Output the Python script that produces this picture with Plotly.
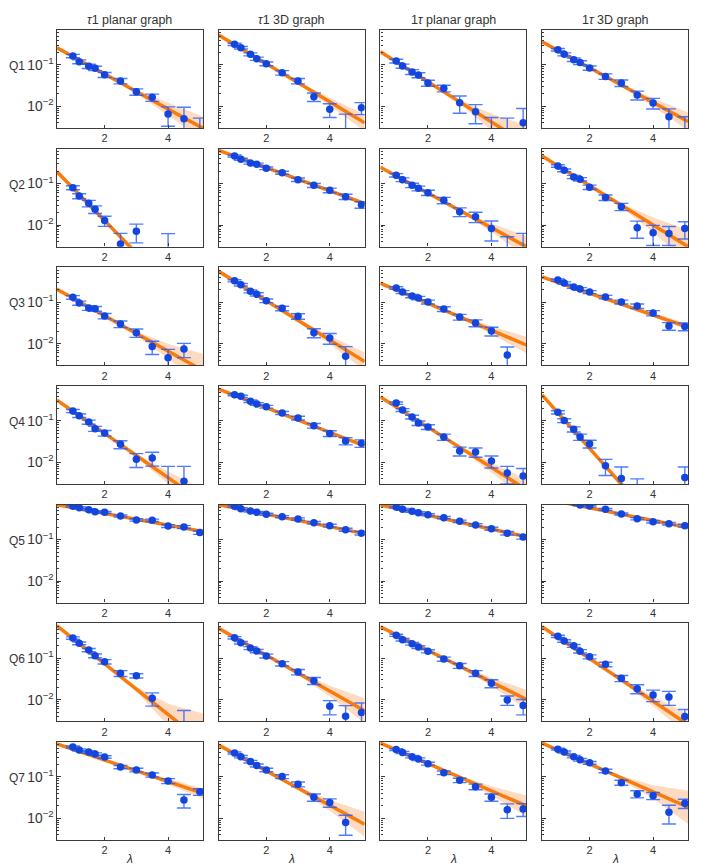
import numpy as np
import plotly.graph_objects as go
from plotly.subplots import make_subplots

lam = [1.0, 1.2, 1.5, 1.7, 2.0, 2.5, 3.0, 3.5, 4.0, 4.5, 5.0]
columns = ['<i>τ</i>1 planar graph', '<i>τ</i>1 3D graph',
           '1<i>τ</i> planar graph', '1<i>τ</i> 3D graph']
questions = ['Q1', 'Q2', 'Q3', 'Q4', 'Q5', 'Q6', 'Q7']

# observed frequencies, one list per graph type (columns), None = not drawn
q1_p = [[0.165, 0.12, 0.093, 0.083, 0.058, 0.041, 0.0225, 0.0165, 0.0065, 0.005, 0.002],
        [0.316, 0.262, 0.181, 0.142, 0.107, 0.065, 0.041, 0.0171, 0.0085, 0.002, 0.0093],
        [0.125, 0.094, 0.068, 0.057, 0.0367, 0.0274, 0.0123, 0.0074, 0.002, 0.002, 0.004],
        [0.234, 0.181, 0.134, 0.114, 0.0845, 0.053, 0.0367, 0.0188, 0.0121, 0.0056, 0.002]]
q1_err = [[0.015, 0.013, 0.011, 0.01, 0.008, 0.006, 0.004, 0.0033, 0.0032, 0.0045, 0.0032],
          [0.02, 0.018, 0.015, 0.013, 0.011, 0.008, 0.006, 0.004, 0.0031, 0.0045, 0.003],
          [0.013, 0.011, 0.009, 0.008, 0.006, 0.005, 0.0055, 0.0036, 0.0034, 0.0032, 0.0049],
          [0.017, 0.015, 0.013, 0.012, 0.01, 0.008, 0.0065, 0.0045, 0.0035, 0.0031, 0.0036]]

q2_p = [[0.08, 0.05, 0.0334, 0.024, 0.0128, 0.0035, 0.0071, None, 0.002, None, None],
        [0.467, 0.388, 0.316, 0.294, 0.235, 0.184, 0.125, 0.091, 0.069, 0.0485, 0.031],
        [0.16, 0.125, 0.091, 0.077, 0.0605, 0.0397, 0.021, 0.0159, 0.0083, 0.002, 0.002],
        [0.267, 0.21, 0.145, 0.128, 0.082, 0.046, 0.0278, 0.0086, 0.0065, 0.0062, 0.0083]]
q2_err = [[0.009, 0.007, 0.006, 0.005, 0.0035, 0.0028, 0.0034, 0, 0.0042, 0, 0],
          [0.025, 0.022, 0.02, 0.019, 0.017, 0.015, 0.012, 0.01, 0.009, 0.007, 0.0055],
          [0.015, 0.013, 0.011, 0.01, 0.009, 0.007, 0.005, 0.0045, 0.0042, 0.0032, 0.0043],
          [0.018, 0.016, 0.013, 0.012, 0.01, 0.007, 0.0055, 0.0038, 0.0033, 0.003, 0.0037]]

q3_p = [[0.132, 0.096, 0.0728, 0.07, 0.0467, 0.0299, 0.0184, 0.0085, 0.0046, 0.0074, None],
        [0.332, 0.266, 0.184, 0.156, 0.109, 0.0716, 0.046, 0.0184, 0.0137, 0.005, None],
        [0.221, 0.177, 0.142, 0.127, 0.102, 0.069, 0.044, 0.0316, 0.0202, 0.0053, None],
        [0.345, 0.292, 0.234, 0.21, 0.177, 0.134, 0.102, 0.081, 0.055, 0.0267, 0.026]]
q3_err = [[0.013, 0.011, 0.009, 0.009, 0.007, 0.0055, 0.0042, 0.003, 0.0027, 0.0028, 0],
          [0.02, 0.018, 0.015, 0.014, 0.011, 0.009, 0.007, 0.0045, 0.004, 0.0035, 0],
          [0.016, 0.015, 0.013, 0.012, 0.011, 0.009, 0.007, 0.006, 0.0048, 0.003, 0],
          [0.021, 0.019, 0.017, 0.016, 0.015, 0.013, 0.011, 0.01, 0.008, 0.0055, 0.0055]]

q4_p = [[0.174, 0.134, 0.094, 0.065, 0.051, 0.0274, 0.0119, 0.0128, 0.002, 0.0035, None],
        [0.43, 0.394, 0.30, 0.257, 0.221, 0.156, 0.118, 0.077, 0.05, 0.033, 0.029],
        [0.27, 0.184, 0.125, 0.089, 0.0716, 0.041, 0.0188, 0.0178, 0.0108, 0.0055, 0.0047],
        [0.162, 0.102, 0.063, 0.041, 0.0283, 0.0083, 0.0041, 0.002, None, None, 0.0043]]
q4_err = [[0.015, 0.013, 0.011, 0.009, 0.008, 0.006, 0.0044, 0.0047, 0.006, 0.0045, 0],
          [0.024, 0.023, 0.02, 0.018, 0.017, 0.014, 0.012, 0.01, 0.008, 0.0065, 0.006],
          [0.018, 0.015, 0.013, 0.011, 0.0095, 0.007, 0.0045, 0.0045, 0.0035, 0.0025, 0.0024],
          [0.014, 0.011, 0.009, 0.007, 0.006, 0.0035, 0.0036, 0.002, 0, 0, 0.0034]]

q5_p = [[0.64, 0.593, 0.53, 0.474, 0.458, 0.373, 0.30, 0.294, 0.214, 0.202, 0.148],
        [0.64, 0.56, 0.493, 0.458, 0.41, 0.359, 0.316, 0.257, 0.218, 0.174, 0.143],
        [0.616, 0.542, 0.484, 0.449, 0.40, 0.34, 0.278, 0.226, 0.184, 0.143, 0.116],
        [0.95, 0.88, 0.8, 0.69, 0.65, 0.542, 0.417, 0.32, 0.272, 0.243, 0.218]]
q5_err = [[0.03, 0.028, 0.027, 0.025, 0.025, 0.022, 0.02, 0.02, 0.017, 0.016, 0.014],
          [0.03, 0.028, 0.026, 0.025, 0.024, 0.022, 0.02, 0.018, 0.017, 0.015, 0.014],
          [0.03, 0.028, 0.026, 0.025, 0.024, 0.021, 0.019, 0.017, 0.016, 0.014, 0.013],
          [0.036, 0.035, 0.033, 0.031, 0.03, 0.027, 0.024, 0.02, 0.019, 0.018, 0.017]]

q6_p = [[0.309, 0.23, 0.158, 0.115, 0.083, 0.0433, 0.038, 0.0108, None, 0.002, None],
        [0.314, 0.238, 0.177, 0.15, 0.114, 0.074, 0.0467, 0.0288, 0.0069, 0.004, 0.0049],
        [0.359, 0.281, 0.225, 0.187, 0.148, 0.096, 0.066, 0.0433, 0.0249, 0.0098, 0.0072],
        [0.34, 0.262, 0.20, 0.148, 0.109, 0.0716, 0.0329, 0.0184, 0.013, 0.0116, 0.0039]]
q6_err = [[0.02, 0.017, 0.014, 0.012, 0.01, 0.007, 0.0045, 0.0038, 0, 0.0035, 0],
          [0.02, 0.017, 0.015, 0.014, 0.012, 0.009, 0.007, 0.0055, 0.0026, 0.0032, 0.0034],
          [0.021, 0.019, 0.017, 0.015, 0.013, 0.011, 0.009, 0.007, 0.0055, 0.0025, 0.0029],
          [0.021, 0.018, 0.016, 0.014, 0.012, 0.009, 0.0055, 0.0045, 0.004, 0.0043, 0.0019]]

q7_p = [[0.53, 0.449, 0.40, 0.359, 0.304, 0.174, 0.148, 0.112, 0.08, 0.0278, 0.044],
        [0.38, 0.31, 0.235, 0.19, 0.148, 0.102, 0.0666, 0.0323, 0.024, 0.0079, None],
        [0.46, 0.39, 0.31, 0.27, 0.21, 0.127, 0.083, 0.058, 0.0323, 0.0162, 0.0169],
        [0.47, 0.40, 0.31, 0.26, 0.22, 0.14, 0.073, 0.0388, 0.0353, 0.014, 0.0231]]
q7_err = [[0.028, 0.026, 0.025, 0.023, 0.021, 0.016, 0.015, 0.013, 0.011, 0.01, 0.008],
          [0.022, 0.02, 0.017, 0.016, 0.014, 0.011, 0.009, 0.0065, 0.0055, 0.004, 0],
          [0.025, 0.023, 0.02, 0.019, 0.017, 0.013, 0.01, 0.009, 0.0065, 0.0062, 0.0058],
          [0.025, 0.023, 0.02, 0.019, 0.017, 0.014, 0.01, 0.0075, 0.007, 0.0067, 0.0058]]

# fitted power-law line, value at the left (lambda=0.5) and right (lambda=5.1) edges
fit_x = [0.5, 5.1]
fit_left = [[0.262, 0.53, 0.209, 0.365],
            [0.195, 0.64, 0.249, 0.467],
            [0.206, 0.56, 0.29, 0.41],
            [0.32, 0.59, 0.38, 0.425],
            [0.70, 0.70, 0.69, 1.0],
            [0.61, 0.53, 0.58, 0.58],
            [0.63, 0.59, 0.66, 0.66]]
fit_right = [[0.00295, 0.004, 0.00123, 0.0043],
             [0.000046, 0.033, 0.003, 0.003],
             [0.00224, 0.0037, 0.0093, 0.0253],
             [0.0011, 0.025, 0.0022, 0.000046],
             [0.156, 0.14, 0.118, 0.195],
             [0.00093, 0.0054, 0.0102, 0.0025],
             [0.040, 0.0072, 0.020, 0.0186]]

# half width of the confidence band (decades) at these lambdas
band_x = [0.5, 2.0, 3.0, 4.0, 5.1]
band_q1 = [[0.05, 0.015, 0.04, 0.16, 0.28], [0.04, 0.01, 0.03, 0.1, 0.2],
           [0.05, 0.015, 0.05, 0.2, 0.45], [0.04, 0.01, 0.03, 0.1, 0.22]]
band_q2 = [[0.06, 0.02, 0.08, 0.2, 0.35], [0.02, 0.008, 0.01, 0.02, 0.04],
           [0.04, 0.01, 0.03, 0.1, 0.25], [0.04, 0.01, 0.05, 0.18, 0.4]]
band_q3 = [[0.05, 0.015, 0.05, 0.18, 0.4], [0.04, 0.01, 0.04, 0.1, 0.22],
           [0.04, 0.01, 0.03, 0.1, 0.2], [0.03, 0.01, 0.02, 0.04, 0.08]]
band_q4 = [[0.05, 0.015, 0.05, 0.15, 0.3], [0.02, 0.008, 0.01, 0.03, 0.05],
           [0.04, 0.01, 0.04, 0.12, 0.25], [0.05, 0.02, 0.08, 0.2, 0.4]]
band_q5 = [[0.01, 0.005, 0.006, 0.012, 0.025], [0.01, 0.005, 0.005, 0.01, 0.02],
           [0.01, 0.005, 0.005, 0.01, 0.02], [0.015, 0.006, 0.008, 0.015, 0.03]]
band_q6 = [[0.05, 0.015, 0.06, 0.26, 0.7], [0.04, 0.01, 0.04, 0.13, 0.3],
           [0.03, 0.01, 0.03, 0.1, 0.23], [0.04, 0.01, 0.04, 0.12, 0.25]]
band_q7 = [[0.03, 0.01, 0.02, 0.06, 0.12], [0.04, 0.01, 0.04, 0.13, 0.3],
           [0.04, 0.01, 0.04, 0.11, 0.25], [0.04, 0.012, 0.05, 0.16, 0.4]]

points = [q1_p, q2_p, q3_p, q4_p, q5_p, q6_p, q7_p]
errors = [q1_err, q2_err, q3_err, q4_err, q5_err, q6_err, q7_err]
bands = [band_q1, band_q2, band_q3, band_q4, band_q5, band_q6, band_q7]

ORANGE = '#f97b0c'
BAND = 'rgba(252,160,90,0.38)'
BLUE = '#1346de'
ERR = 'rgba(35,90,255,0.8)'
EDGE = '#3a3a3a'
TEXT = '#333333'
FONT = 'Liberation Sans, Arial, sans-serif'

# the page body has an 8px margin, so the figure is 8px smaller than the window
W, H = 701, 860
ml, mr, mt, mb = 49, 21, 22, 28

fig = make_subplots(rows=7, cols=4,
                    horizontal_spacing=15.67 / (W - ml - mr),
                    vertical_spacing=20.67 / (H - mt - mb))

for r in range(7):
    for c in range(4):
        row, col = r + 1, c + 1
        # confidence band around the fit (straight line in log space)
        lo_l, hi_l = np.log10(fit_left[r][c]), np.log10(fit_right[r][c])
        centre = [lo_l + (bx - fit_x[0]) / (fit_x[1] - fit_x[0]) * (hi_l - lo_l) for bx in band_x]
        hw = bands[r][c]
        upper = [10 ** (m + h) for m, h in zip(centre, hw)]
        lower = [10 ** (m - h) for m, h in zip(centre, hw)]
        fig.add_trace(go.Scatter(
            x=band_x + band_x[::-1], y=upper + lower[::-1],
            fill='toself', fillcolor=BAND, line=dict(width=0),
            mode='lines', hoverinfo='skip', showlegend=False), row=row, col=col)
        fig.add_trace(go.Scatter(
            x=fit_x, y=[fit_left[r][c], fit_right[r][c]],
            mode='lines', line=dict(color=ORANGE, width=3.5),
            showlegend=False), row=row, col=col)
        fig.add_trace(go.Scatter(
            x=lam, y=points[r][c], mode='markers',
            marker=dict(color=BLUE, size=7.5),
            error_y=dict(type='data', array=errors[r][c], color=ERR,
                         thickness=1.4, width=7),
            showlegend=False), row=row, col=col)

        fig.update_xaxes(range=[0.5, 5.1], tickvals=[2, 4], ticks='inside',
                         ticklen=3, tickcolor=EDGE, showline=True, linecolor=EDGE,
                         linewidth=1.4, mirror=True, showgrid=False, zeroline=False,
                         tickfont=dict(size=11, color=TEXT), row=row, col=col)
        fig.update_yaxes(type='log', range=[np.log10(0.003), np.log10(0.7)],
                         dtick=1, exponentformat='power', ticks='inside',
                         ticklen=4, tickcolor=EDGE, showline=True, linecolor=EDGE,
                         linewidth=1.4, mirror=True, showgrid=False, zeroline=False,
                         showticklabels=(c == 0),
                         minor=dict(ticks='inside', ticklen=2, tickcolor=EDGE,
                                    dtick='D1', showgrid=False),
                         tickfont=dict(size=11, color=TEXT), row=row, col=col)

annotations = []
for c in range(4):
    xa = fig.layout['xaxis' + ('' if c == 0 else str(c + 1))]
    xc = sum(xa.domain) / 2
    annotations.append(dict(text=columns[c], x=xc, y=1, xref='paper', yref='paper',
                            xanchor='center', yanchor='bottom', yshift=1,
                            showarrow=False, font=dict(size=12.5, color=TEXT)))
    annotations.append(dict(text='<i>λ</i>', x=xc, y=0, xref='paper', yref='paper',
                            xanchor='center', yanchor='middle', yshift=-19,
                            showarrow=False, font=dict(size=12, color=TEXT)))
for r in range(7):
    ya = fig.layout['yaxis' + ('' if r == 0 else str(4 * r + 1))]
    top = ya.domain[1]
    annotations.append(dict(text=questions[r], x=0, y=top, xref='paper', yref='paper',
                            xanchor='right', yanchor='middle', xshift=-30, yshift=-36,
                            showarrow=False, font=dict(size=12, color=TEXT)))

fig.update_layout(width=W, height=H, margin=dict(l=ml, r=mr, t=mt, b=mb),
                  plot_bgcolor='white', paper_bgcolor='white',
                  font=dict(family=FONT, color=TEXT),
                  annotations=annotations)

fig.write_html('out.html')
